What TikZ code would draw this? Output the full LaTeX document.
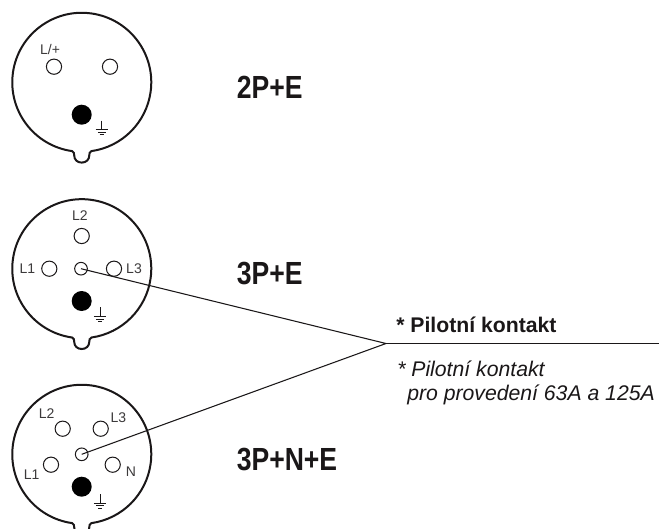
\documentclass[tikz,border=0pt]{standalone}
\usepackage{fontspec}
\setmainfont{Liberation Sans}
\newfontfamily\narrowbold[FakeStretch=0.83]{Liberation Sans Bold}
\definecolor{ink}{HTML}{1A1718}
\tikzset{
  x=0.75pt,y=-0.75pt,
  shell/.style={draw=ink,line width=1.5pt,fill=white},
  pin/.style={circle,draw=ink,line width=0.75pt,minimum size=11.4pt,inner sep=0pt,fill=white},
  pilot/.style={circle,draw=ink,line width=0.75pt,minimum size=9.5pt,inner sep=0pt,fill=white},
  earthpin/.style={circle,fill=black,minimum size=15pt,inner sep=0pt},
  pinlabel/.style={font=\fontsize{10.5pt}{12pt}\selectfont,text=ink!85,inner sep=0pt},
  typelabel/.style={font=\narrowbold\fontsize{24pt}{26pt}\selectfont,text=ink,anchor=base west,inner sep=0pt},
  wire/.style={draw=ink,line width=0.8pt},
  earthline/.style={draw=ink,line width=0.55pt},
  note/.style={font=\fontsize{15.9pt}{18pt}\selectfont\itshape,text=ink,anchor=base west,inner sep=0pt},
  notehead/.style={font=\fontsize{15.9pt}{18pt}\selectfont\bfseries,text=ink,anchor=base west,inner sep=0pt},
}
\newcommand{\plugshell}[1]{%
  \draw[shell] (72.1,#1+68.8)
    arc[start angle=98,end angle=442,x radius=69.5*0.75pt,y radius=-69.5*0.75pt]
    .. controls (89.5,#1+69.4) and (89.3,#1+71.5) .. (89.3,#1+73)
    .. controls (89.3,#1+77.5) and (86,#1+80.3) .. (81.7,#1+80.3)
    .. controls (77.4,#1+80.3) and (74.2,#1+77.5) .. (74.2,#1+73)
    .. controls (74.2,#1+71.5) and (74,#1+69.4) .. cycle;
}
\newcommand{\earthsym}[3]{%
  \draw[earthline] (#1,#2) -- (#1,#3);
  \draw[earthline] (#1-6.2,#3) -- (#1+6.2,#3);
  \draw[earthline] (#1-3.8,#3+2.6) -- (#1+3.8,#3+2.6);
  \draw[earthline] (#1-2,#3+5) -- (#1+2,#3+5);
}
\begin{document}
\begin{tikzpicture}
\useasboundingbox (0,0) rectangle (659,528);
\clip (0,0) rectangle (659,528);
\plugshell{82.3}
\node[pin] (a1) at (54,66.7) {};
\node[pin] (a2) at (110,66.7) {};
\node[earthpin] (ae) at (81.7,114.7) {};
\earthsym{101.7}{120.7}{129.3}
\node[pinlabel] (al) at (50,49.3) {L/+};
\node[typelabel] (at) at (236.5,98.3) {2P+E};
\plugshell{268.7}
\node[pin] (b2) at (81.7,236) {};
\node[pin] (b1) at (49.3,268.7) {};
\node[pin] (b3) at (114,268.7) {};
\node[pilot] (bp) at (81,268.7) {};
\node[earthpin] (be) at (81.7,301) {};
\earthsym{100}{307.3}{316.7}
\node[pinlabel] (bl2) at (80,216) {L2};
\node[pinlabel] (bl1) at (27.3,268.7) {L1};
\node[pinlabel] (bl3) at (134,268.7) {L3};
\node[typelabel] (bt) at (236.5,284) {3P+E};
\plugshell{454.3}
\node[pin] (c2) at (62.7,428.7) {};
\node[pin] (c3) at (100.7,428.7) {};
\node[pin] (c1) at (51,464.7) {};
\node[pin] (cn) at (112.7,464.7) {};
\node[pilot] (cp) at (81.7,454.3) {};
\node[earthpin] (ce) at (81.7,486.7) {};
\earthsym{100}{494}{503}
\node[pinlabel] (cl2) at (46.7,414) {L2};
\node[pinlabel] (cl3) at (118.3,417.3) {L3};
\node[pinlabel] (cl1) at (31.7,474.7) {L1};
\node[pinlabel] (cln) at (131,471.3) {N};
\node[typelabel] (ct) at (236.5,470.7) {3P+N+E};
\coordinate (j) at (386,343.5);
\coordinate (e) at (659,343.5);
\draw[wire] (bp.center) -- (j) -- (cp.center);
\draw[wire,line width=1pt] (j) -- (e);
\node[notehead] (h) at (396,332.7) {* Pilotní kontakt};
\node[note] (n1) at (397,376) {* Pilotní kontakt};
\node[note] (n2) at (407,400) {pro provedení 63A a 125A};
\end{tikzpicture}
\end{document}
